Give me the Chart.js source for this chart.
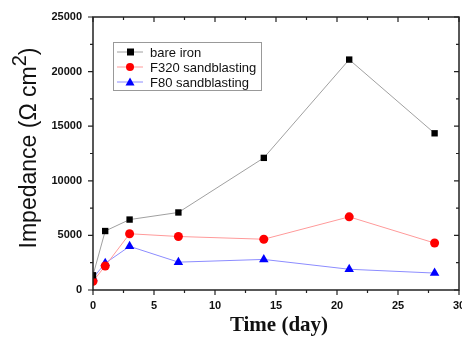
<!DOCTYPE html>
<html>
<head>
<meta charset="utf-8">
<script src="https://cdn.jsdelivr.net/npm/chart.js@4"></script>
<style>
  html, body { margin: 0; padding: 0; background: #fff; }
  #wrap { width: 462px; height: 337px; }
</style>
</head>
<body>
<div id="wrap"><canvas id="chart" width="462" height="337"></canvas></div>
<script>
const days = [0, 1, 3, 7, 14, 21, 28];
const bareIron = [1350, 5400, 6450, 7100, 12100, 21100, 14350];
const f320 = [800, 2200, 5150, 4900, 4650, 6700, 4300];
const f80 = [1100, 2450, 4000, 2550, 2800, 1900, 1550];
const seriesNames = ['bare iron', 'F320 sandblasting', 'F80 sandblasting'];
const xTicks = [0, 5, 10, 15, 20, 25, 30];
const yTicks = [0, 5000, 10000, 15000, 20000, 25000];

const ctx = document.getElementById('chart').getContext('2d');

function toPoints(ys) {
    return days.map((d, i) => ({ x: d, y: ys[i] }));
}

// frame, minor/major ticks (mirrored inside on top/right), titles, legend
const decorations = {
    id: 'decorations',
    afterDraw(chart) {
        const c = chart.ctx;
        const a = chart.chartArea;
        const xs = chart.scales.x;
        const ys = chart.scales.y;
        c.save();
        c.strokeStyle = '#222';
        c.lineWidth = 1.5;
        c.strokeRect(a.left, a.top, a.right - a.left, a.bottom - a.top);

        c.lineWidth = 1.2;
        c.beginPath();
        for (let v = 0; v <= 30; v += 2.5) {
            const px = xs.getPixelForValue(v);
            const len = v % 5 === 0 ? 5 : 3;
            c.moveTo(px, a.bottom); c.lineTo(px, a.bottom + len);
            c.moveTo(px, a.top); c.lineTo(px, a.top + len);
        }
        for (let v = 0; v <= 25000; v += 2500) {
            const py = ys.getPixelForValue(v);
            const len = v % 5000 === 0 ? 5 : 3;
            c.moveTo(a.left, py); c.lineTo(a.left - len, py);
            c.moveTo(a.right, py); c.lineTo(a.right - len, py);
        }
        c.stroke();

        // x title
        c.fillStyle = '#111';
        c.font = 'bold 21px "Liberation Serif", "Times New Roman", serif';
        c.textAlign = 'center';
        c.textBaseline = 'alphabetic';
        c.fillText('Time (day)', 279, 331);

        // y title with superscript
        c.translate(36, 148);
        c.rotate(-Math.PI / 2);
        const big = '23px "Liberation Sans", Arial, sans-serif';
        const small = '20px "Liberation Sans", Arial, sans-serif';
        c.font = big;
        const part1 = 'Impedance (\u03A9 cm';
        const part3 = ')';
        const w1 = c.measureText(part1).width;
        const w3 = c.measureText(part3).width;
        c.font = small;
        const w2 = c.measureText('2').width;
        const total = w1 + w2 + w3;
        const x0 = -total / 2;
        c.textAlign = 'left';
        c.font = big;
        c.fillText(part1, x0, 0);
        c.font = small;
        c.fillText('2', x0 + w1, -10);
        c.font = big;
        c.fillText(part3, x0 + w1 + w2, 0);
        c.restore();

        // legend
        c.save();
        c.strokeStyle = '#999';
        c.lineWidth = 1;
        c.strokeRect(113.5, 42.5, 148, 48);
        c.font = '13px "Liberation Sans", Arial, sans-serif';
        c.textBaseline = 'middle';
        c.textAlign = 'left';
        const rows = [52, 67, 82];
        chart.data.datasets.forEach((ds, i) => {
            const y = rows[i];
            c.strokeStyle = ds.borderColor;
            c.lineWidth = 1;
            c.beginPath();
            c.moveTo(117, y); c.lineTo(143, y);
            c.stroke();
            c.fillStyle = ds.pointBackgroundColor;
            c.beginPath();
            if (ds.pointStyle === 'rect') {
                c.rect(127, y - 3.5, 7, 7);
            } else if (ds.pointStyle === 'circle') {
                c.arc(130, y, 4, 0, Math.PI * 2);
            } else {
                c.moveTo(130, y - 4.5); c.lineTo(134.5, y + 3.5); c.lineTo(125.5, y + 3.5); c.closePath();
            }
            c.fill();
            c.fillStyle = '#111';
            c.fillText(ds.label, 150, y + 1);
        });
        c.restore();
    }
};

new Chart(ctx, {
    type: 'scatter',
    data: {
        datasets: [
            {
                label: seriesNames[0],
                data: toPoints(bareIron),
                showLine: true,
                borderColor: '#a0a0a0',
                borderWidth: 1,
                pointStyle: 'rect',
                pointRadius: 4.5,
                pointBackgroundColor: '#000',
                pointBorderColor: '#000',
                pointBorderWidth: 0
            },
            {
                label: seriesNames[1],
                data: toPoints(f320),
                showLine: true,
                borderColor: '#ff9a9a',
                borderWidth: 1,
                pointStyle: 'circle',
                pointRadius: 4.5,
                pointBackgroundColor: '#ff0000',
                pointBorderColor: '#ff0000',
                pointBorderWidth: 0
            },
            {
                label: seriesNames[2],
                data: toPoints(f80),
                showLine: true,
                borderColor: '#8c8cff',
                borderWidth: 1,
                pointStyle: 'triangle',
                pointRadius: 5.5,
                pointBackgroundColor: '#0000ff',
                pointBorderColor: '#0000ff',
                pointBorderWidth: 0
            }
        ]
    },
    options: {
        responsive: false,
        animation: false,
        layout: {
            autoPadding: false,
            padding: { left: 0, top: 17, right: 3, bottom: 0 }
        },
        plugins: {
            legend: { display: false },
            tooltip: { enabled: false }
        },
        scales: {
            x: {
                type: 'linear',
                min: 0,
                max: 30,
                afterFit(scale) {
                    scale.height = 47;
                    scale.paddingLeft = 0;
                    scale.paddingRight = 0;
                },
                afterBuildTicks(scale) { scale.ticks = xTicks.map(v => ({ value: v })); },
                grid: { display: false, drawTicks: false },
                border: { display: false },
                ticks: {
                    padding: 9,
                    color: '#111',
                    font: { family: '"Liberation Sans", Arial, sans-serif', size: 11, weight: 'bold' }
                }
            },
            y: {
                type: 'linear',
                min: 0,
                max: 25000,
                afterFit(scale) {
                    scale.width = 93;
                    scale.paddingTop = 0;
                    scale.paddingBottom = 0;
                },
                afterBuildTicks(scale) { scale.ticks = yTicks.map(v => ({ value: v })); },
                grid: { display: false, drawTicks: false },
                border: { display: false },
                ticks: {
                    padding: 11,
                    color: '#111',
                    font: { family: '"Liberation Sans", Arial, sans-serif', size: 11, weight: 'bold' },
                    callback: v => String(v)
                }
            }
        }
    },
    plugins: [decorations]
});
</script>
</body>
</html>
